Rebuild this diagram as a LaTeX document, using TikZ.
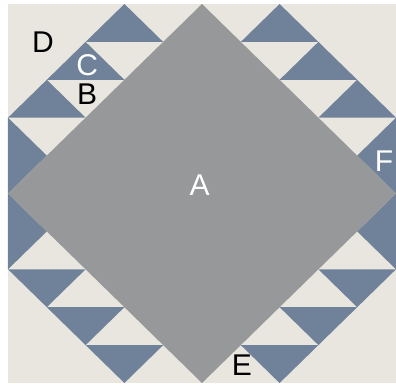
\documentclass[tikz,border=0pt]{standalone}
\usepackage{fontspec}
\setmainfont{Liberation Sans}
\usepackage{tikz}
\definecolor{quiltbg}{RGB}{232,230,223}
\definecolor{goose}{RGB}{112,130,153}
\definecolor{centre}{RGB}{151,152,153}

\begin{document}
\begin{tikzpicture}[x=38.8pt, y=-37.9pt, every node/.style={inner sep=0pt, font=\fontsize{30}{30}\selectfont}]
                    \useasboundingbox (-8pt,4pt) rectangle (10,10);
                    \fill[quiltbg] (0,0) rectangle (10,10);

                    \foreach \a/\b/\c/\d/\e/\f in {3/0/2/1/4/1, 2/1/1/2/3/2, 1/2/0/3/2/3, 0/3/1/4/0/5,
                                                    7/0/6/1/8/1, 8/1/7/2/9/2, 9/2/8/3/10/3, 10/3/9/4/10/5,
                                                    0/5/1/6/0/7, 0/7/2/7/1/8, 1/8/3/8/2/9, 2/9/4/9/3/10,
                                                    10/5/9/6/10/7, 8/7/10/7/9/8, 7/8/9/8/8/9, 6/9/8/9/7/10} {
                        \fill[goose] (\a,\b) -- (\c,\d) -- (\e,\f) -- cycle;
                    }

                    \fill[centre] (5,0) -- (10,5) -- (5,10) -- (0,5) -- cycle;

                    \node[text=white] (A) at (4.94,4.78) {A};
                    \node (B) at (2.04,2.37) {B};
                    \node[text=white] (C) at (2.04,1.62) {C};
                    \node (D) at (0.90,1.00) {D};
                    \node (E) at (6.03,9.53) {E};
                    \node[text=white] (F) at (9.69,4.14) {F};
                \end{tikzpicture}
\end{document}
